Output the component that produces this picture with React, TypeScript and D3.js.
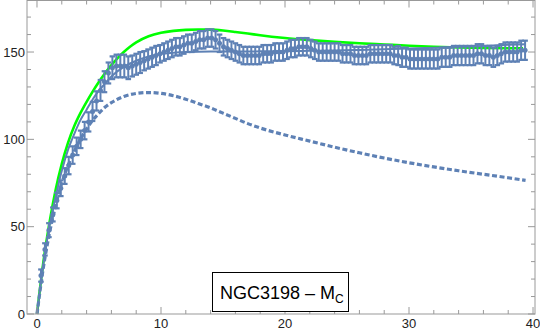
import React from "react";
import * as d3 from "d3";

// Observed rotation curve (kpc, km/s) with 1-sigma errors
const radius = [
  0.32, 0.64, 0.96, 1.28, 1.6, 1.92, 2.24, 2.56, 2.88, 3.2,
  3.52, 3.84, 4.16, 4.48, 4.8, 5.12, 5.44, 5.76, 6.08, 6.4,
  6.72, 7.04, 7.36, 7.68, 8.0, 8.32, 8.64, 8.96, 9.28, 9.6,
  9.92, 10.24, 10.56, 10.88, 11.2, 11.52, 11.84, 12.16, 12.48, 12.8,
  13.12, 13.44, 13.76, 14.08, 14.4, 14.72, 15.04, 15.36, 15.68, 16.0,
  16.32, 16.64, 16.96, 17.28, 17.6, 17.92, 18.24, 18.56, 18.88, 19.2,
  19.52, 19.84, 20.16, 20.48, 20.8, 21.12, 21.44, 21.76, 22.08, 22.4,
  22.72, 23.04, 23.36, 23.68, 24.0, 24.32, 24.64, 24.96, 25.28, 25.6,
  25.92, 26.24, 26.56, 26.88, 27.2, 27.52, 27.84, 28.16, 28.48, 28.8,
  29.12, 29.44, 29.76, 30.08, 30.4, 30.72, 31.04, 31.36, 31.68, 32.0,
  32.32, 32.64, 32.96, 33.28, 33.6, 33.92, 34.24, 34.56, 34.88, 35.2,
  35.52, 35.84, 36.16, 36.48, 36.8, 37.12, 37.44, 37.76, 38.08, 38.4,
  38.72, 39.04, 39.36,
];
const velocity = [
  22, 37, 48, 57, 65, 72, 79, 85, 91, 96,
  100, 105, 110, 116, 122, 128, 133, 138, 141, 142,
  142, 142, 141, 142, 143, 144, 145, 146, 147, 148,
  149, 150, 151, 152, 153, 153, 154, 155, 155, 156,
  157, 157, 158, 158, 157, 155, 153, 152, 151, 150,
  149, 148, 148, 148, 148, 148, 149, 149, 149, 150,
  150, 150, 151, 152, 152, 153, 153, 153, 152, 151,
  150, 150, 150, 150, 150, 150, 149, 149, 149, 148,
  148, 148, 148, 149, 149, 149, 149, 149, 149, 148,
  148, 147, 147, 146, 146, 146, 146, 146, 146, 146,
  146, 147, 147, 147, 148, 148, 148, 148, 148, 148,
  149, 149, 148, 148, 147, 148, 149, 150, 150, 150,
  150, 151, 151,
];
const velocityErr = [
  3.5, 3.5, 4, 4, 4.5, 4.5, 4.5, 5, 5, 5,
  5, 5, 5.5, 5.5, 5.5, 6, 6, 6, 6.5, 6.5,
  6.5, 6.5, 6.5, 6, 6, 6, 5.5, 5.5, 5.5, 5.5,
  5, 5, 5, 5, 5, 5, 5, 5, 5, 5,
  5, 5, 5, 5, 5, 5, 5, 5, 5, 5,
  5, 5, 5, 5, 5, 5, 5, 5, 5, 5,
  5, 5, 5, 5, 5, 5, 5, 5, 5, 5,
  5, 5, 5, 5, 5, 5, 5, 5, 5, 5,
  5, 5, 5, 5, 5, 5, 5, 5, 5, 5,
  5.5, 5.5, 5.5, 5.5, 5.5, 5.5, 5.5, 5.5, 5.5, 5.5,
  5.5, 5.5, 5.5, 5.5, 5.5, 5.5, 5.5, 5.5, 5.5, 5.5,
  5.5, 5.5, 5.5, 5.5, 5.5, 5.5, 5.5, 5.5, 5.5, 5.5,
  5.5, 5.5, 5.5,
];

// Model curve (green)
const modelR = [0, 0.5, 1, 1.5, 2, 2.5, 3, 3.5, 4, 4.5, 5, 5.5, 6, 6.5, 7, 7.5, 8, 9, 10, 11, 12, 13, 14, 15, 16, 17, 18, 20, 22, 24, 26, 28, 30, 32, 34, 36, 38, 39.2];
const modelV = [0, 29, 52, 71, 86, 98, 107.5, 115, 121.5, 127.5, 133, 138, 142.5, 146.5, 150, 153, 155.5, 159, 161, 162.1, 162.7, 162.9, 162.8, 162.3, 161.5, 160.6, 159.6, 158, 156.8, 155.8, 155, 154.3, 153.6, 153, 152.6, 152.3, 152.2, 152.2];

// Baryonic component (dashed) and total fit (solid blue)
const compR = [0, 0.5, 1, 1.5, 2, 2.5, 3, 3.5, 4, 4.5, 5, 5.5, 6, 7, 8, 9, 10, 11, 12, 13, 14, 15, 16, 17, 18, 20, 22, 24, 26, 28, 30, 32, 34, 36, 38, 39.4];
const baryonV = [0, 26, 46, 62, 75, 85, 93, 100, 106, 111, 115, 118.5, 121, 124.5, 126.3, 126.8, 126.3, 125, 123, 120.5, 118, 115, 112, 109, 106.5, 102.5, 99, 95.5, 92.3, 89.3, 86.6, 84.2, 82, 80, 78, 76.5];
const totalV = [0, 28, 50, 67, 82, 94, 103, 111, 117, 123, 128, 132, 136, 141.5, 145, 147.5, 149, 149.6, 150, 150.2, 150.3, 150.3, 150.3, 150.3, 150.4, 150.5, 150.7, 150.9, 151.2, 151.6, 152, 152.5, 153, 153.5, 154.1, 154.5];

const xTicks = [0, 10, 20, 30, 40];
const yTicks = [0, 50, 100, 150];
const labelMain = "NGC3198 – M";
const labelSub = "C";

const W = 540;
const H = 332;
const BLUE = "#5e81b5";
const GREEN = "#00ff00";

export default function App() {
  const left = 27, right = 535, top = 0.5, bottom = 314;
  const x = d3.scaleLinear().domain([-0.806, 40.16]).range([left, right]);
  const y = d3.scaleLinear().domain([0, 179.5]).range([bottom, top]);

  const smooth = d3.line<[number, number]>().x((d) => x(d[0])).y((d) => y(d[1])).curve(d3.curveMonotoneX);
  const greenPath = smooth(modelR.map((r, i) => [r, modelV[i]]));
  const baryonPath = smooth(compR.map((r, i) => [r, baryonV[i]]));
  const totalPath = smooth(compR.map((r, i) => [r, totalV[i]]));

  const minorX = d3.range(0, 42, 2).filter((v) => v % 10 !== 0 && v <= 40);
  const minorY = d3.range(0, 180, 10).filter((v) => v % 50 !== 0);
  const tickColor = "#999";
  const font = "'Liberation Sans', Arial, sans-serif";

  return (
    <svg width={W} height={H} style={{ position: "absolute", left: 0, top: 0, background: "#fff" }}>
      {/* model curves */}
      <path d={greenPath || ""} fill="none" stroke={GREEN} strokeWidth={2.6} />
      <path d={baryonPath || ""} fill="none" stroke={BLUE} strokeWidth={3.2} strokeDasharray="5,2.6" />
      <path d={totalPath || ""} fill="none" stroke={BLUE} strokeWidth={2} />

      {/* data with error bars */}
      <g stroke={BLUE} fill={BLUE}>
        {radius.map((r, i) => {
          const cx = x(r);
          const y0 = y(velocity[i] - velocityErr[i]);
          const y1 = y(velocity[i] + velocityErr[i]);
          return (
            <g key={i}>
              <line x1={cx} x2={cx} y1={y0} y2={y1} strokeWidth={2} />
              <line x1={cx - 2.8} x2={cx + 2.8} y1={y0} y2={y0} strokeWidth={2.2} />
              <line x1={cx - 2.8} x2={cx + 2.8} y1={y1} y2={y1} strokeWidth={2.2} />
              <circle cx={cx} cy={y(velocity[i])} r={2.5} stroke="none" />
            </g>
          );
        })}
      </g>

      {/* frame */}
      <rect x={left} y={top} width={right - left} height={bottom - top} fill="none" stroke={tickColor} strokeWidth={1} />
      {xTicks.map((t) => (
        <g key={"x" + t}>
          <line x1={x(t)} x2={x(t)} y1={bottom} y2={bottom - 7} stroke={tickColor} />
          <line x1={x(t)} x2={x(t)} y1={top} y2={top + 7} stroke={tickColor} />
          <text x={x(t)} y={328} textAnchor="middle" fontFamily={font} fontSize={13} fill="#222">{t}</text>
        </g>
      ))}
      {minorX.map((t) => (
        <g key={"mx" + t}>
          <line x1={x(t)} x2={x(t)} y1={bottom} y2={bottom - 4} stroke={tickColor} />
          <line x1={x(t)} x2={x(t)} y1={top} y2={top + 4} stroke={tickColor} />
        </g>
      ))}
      {yTicks.map((t) => (
        <g key={"y" + t}>
          <line x1={left} x2={left + 7} y1={y(t)} y2={y(t)} stroke={tickColor} />
          <line x1={right} x2={right - 7} y1={y(t)} y2={y(t)} stroke={tickColor} />
          <text x={25} y={y(t)} dy="0.35em" textAnchor="end" fontFamily={font} fontSize={13} fill="#222">{t}</text>
        </g>
      ))}
      {minorY.map((t) => (
        <g key={"my" + t}>
          <line x1={left} x2={left + 4} y1={y(t)} y2={y(t)} stroke={tickColor} />
          <line x1={right} x2={right - 4} y1={y(t)} y2={y(t)} stroke={tickColor} />
        </g>
      ))}

      {/* label */}
      <g>
        <rect x={212.5} y={272.5} width={136} height={39} fill="#fff" stroke="#000" strokeWidth={1} />
        <text x={220} y={299} fontFamily={font} fontSize={18} fill="#000">
          {labelMain}
          <tspan fontSize={12} dy={4}>{labelSub}</tspan>
        </text>
      </g>
    </svg>
  );
}
